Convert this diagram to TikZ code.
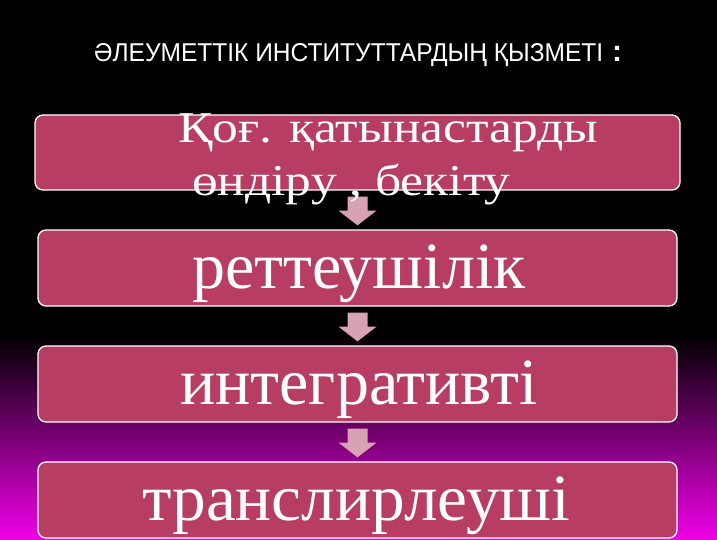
\documentclass[tikz,border=0pt]{standalone}
\usepackage{fontspec}
\setmainfont{Liberation Serif}
\newfontfamily\titlefont{Liberation Sans}
\usetikzlibrary{calc}
\definecolor{boxfill}{RGB}{183,61,98}
\definecolor{arrowc}{RGB}{214,162,180}
\definecolor{bgmag}{RGB}{240,0,232}
\newcommand\blockarrow[2]{%
  \fill[arrowc] ($(#1.south)+(-10,6)$) -- ($(#1.south)+(10,6)$) -- ($(#1.south)+(10,20)$)
   -- ($(#1.south)+(19,20)$) -- ($(#2.north)+(0,-4)$) -- ($(#1.south)+(-19,20)$)
   -- ($(#1.south)+(-10,20)$) -- cycle;}
\begin{document}
\begin{tikzpicture}[x=1pt,y=-1pt,
  box/.style={draw=white, line width=1.3pt, fill=boxfill, rounded corners=8pt, inner sep=0pt},
  boxtext/.style={text=white, inner sep=0pt, anchor=base west, font=\fontsize{66}{70}\selectfont}]
\useasboundingbox (0,0) rectangle (717,540);
\fill[black] (0,0) rectangle (717,540);
\shade[top color=black, bottom color=bgmag] (0,335) rectangle (717,540);
% title
\node[text=white, inner sep=0pt, anchor=base west] (title) at (94,62)
  {\titlefont\resizebox{509pt}{18pt}{ӘЛЕУМЕТТІК ИНСТИТУТТАРДЫҢ ҚЫЗМЕТІ}};
\node[text=white, inner sep=0pt, anchor=base west] (colon) at (612,62)
  {\titlefont\bfseries\fontsize{30}{30}\selectfont :};
% boxes
\node[box, minimum width=645pt, minimum height=75pt] (b1) at (357.5,152.5) {};
\node[box, minimum width=639pt, minimum height=76pt] (b2) at (357.5,268) {};
\node[box, minimum width=639pt, minimum height=76pt] (b3) at (357.5,384) {};
\node[box, minimum width=639pt, minimum height=76pt] (b4) at (357.5,500) {};
% arrows
\blockarrow{b1}{b2}
\blockarrow{b2}{b3}
\blockarrow{b3}{b4}
% texts
\node[boxtext, font=\fontsize{44}{53}\selectfont] (t1a) at (178,143) {\scalebox{1.17}[1]{Қоғ. қатынастарды}};
\node[boxtext, font=\fontsize{44}{53}\selectfont] (t1b) at (192,196) {\scalebox{1.17}[1]{өндіру , бекіту}};
\node[boxtext] (t2) at (192,288) {реттеушілік};
\node[boxtext] (t3) at (180,404) {интегративті};
\node[boxtext] (t4) at (142,520) {\scalebox{1.02}[1]{транслирлеуші}};
\end{tikzpicture}
\end{document}
